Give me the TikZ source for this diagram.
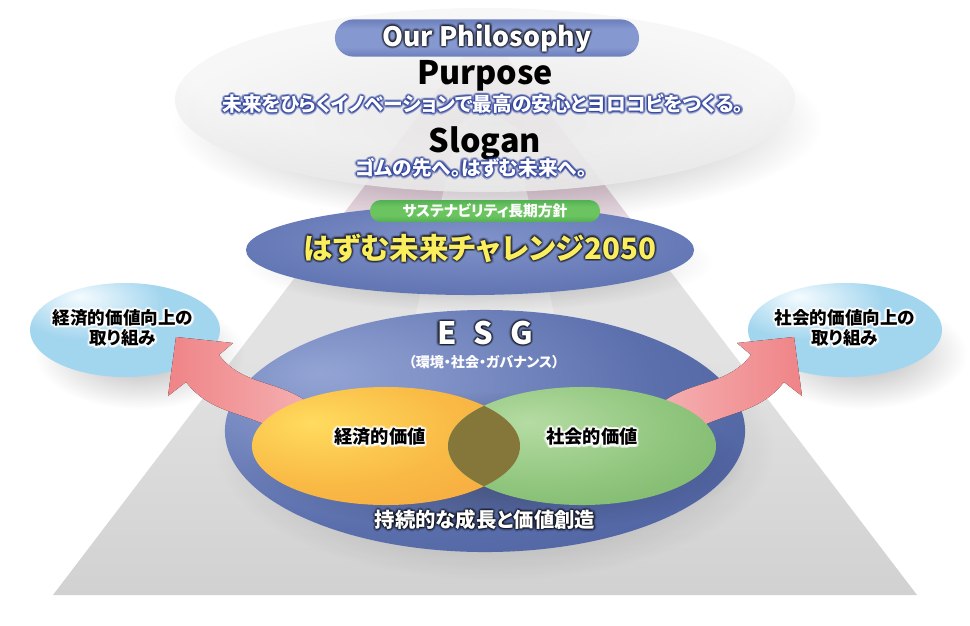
\documentclass[tikz,border=0pt]{standalone}
\usepackage{fontspec}
\setmainfont{Noto Sans CJK JP}[RawFeature=+palt]
\usetikzlibrary{shapes.geometric, fadings}

\definecolor{floorpink}{HTML}{E8C4D9}
\definecolor{floorgrey}{HTML}{E2E2E2}
\definecolor{floordark}{HTML}{BDBDBD}
\definecolor{silverlight}{HTML}{F6F6F6}
\definecolor{silvermid}{HTML}{D9D9D9}
\definecolor{silveredge}{HTML}{B3B3B3}
\definecolor{pilldark}{HTML}{3A4E94}
\definecolor{pilllight}{HTML}{8698D0}
\definecolor{greendark}{HTML}{23903A}
\definecolor{greenlite}{HTML}{6CC461}
\definecolor{challlight}{HTML}{8193C9}
\definecolor{challmid}{HTML}{6074B3}
\definecolor{challdark}{HTML}{485A99}
\definecolor{skylight}{HTML}{F4FBFE}
\definecolor{skymid}{HTML}{A2D5EE}
\definecolor{skyedge}{HTML}{7B9BD0}
\definecolor{esglight}{HTML}{93A4D4}
\definecolor{esgmid}{HTML}{5B6FAD}
\definecolor{esgdark}{HTML}{3B4E8D}
\definecolor{orangelight}{HTML}{FFDB5E}
\definecolor{orangemid}{HTML}{F9BA45}
\definecolor{orangeedge}{HTML}{F29638}
\definecolor{greenlight}{HTML}{B5DCA3}
\definecolor{greenmid}{HTML}{8EC47B}
\definecolor{greenedge}{HTML}{68A65A}
\definecolor{overlapolive}{HTML}{85773A}
\definecolor{arrowpink}{HTML}{EF8487}
\definecolor{arrowlight}{HTML}{F5AEB0}
\definecolor{glowblue}{HTML}{2B3F9C}
\definecolor{challengeyellow}{HTML}{FAEE5E}

\pgfdeclareverticalshading{floorshade}{100bp}{color(0bp)=(floordark); color(46bp)=(floorgrey); color(54bp)=(floorgrey); color(66bp)=(floorpink); color(100bp)=(floorpink)}
\pgfdeclareradialshading{silvershade}{\pgfpoint{0bp}{14bp}}{color(0bp)=(silverlight); color(24bp)=(silverlight); color(48bp)=(silvermid); color(66bp)=(silveredge); color(100bp)=(silveredge)}
\pgfdeclareverticalshading{bluepill}{100bp}{color(0bp)=(pilldark); color(38bp)=(pilllight); color(62bp)=(pilllight); color(100bp)=(pilldark)}
\pgfdeclareverticalshading{greenpill}{100bp}{color(0bp)=(greendark); color(40bp)=(greenlite); color(60bp)=(greenlite); color(100bp)=(greendark)}
\pgfdeclareradialshading{challshade}{\pgfpoint{0bp}{6bp}}{color(0bp)=(challlight); color(30bp)=(challmid); color(58bp)=(challdark); color(100bp)=(challdark)}
\pgfdeclareradialshading{skyshade}{\pgfpoint{-12bp}{18bp}}{color(0bp)=(skylight); color(20bp)=(skymid); color(46bp)=(skymid); color(68bp)=(skyedge); color(100bp)=(skyedge)}
\pgfdeclareradialshading{esgshade}{\pgfpoint{-16bp}{12bp}}{color(0bp)=(esglight); color(28bp)=(esgmid); color(64bp)=(esgdark); color(100bp)=(esgdark)}
\pgfdeclareradialshading{orangeshade}{\pgfpoint{-14bp}{10bp}}{color(0bp)=(orangelight); color(24bp)=(orangemid); color(62bp)=(orangeedge); color(100bp)=(orangeedge)}
\pgfdeclareradialshading{greenshade}{\pgfpoint{-10bp}{10bp}}{color(0bp)=(greenlight); color(26bp)=(greenmid); color(62bp)=(greenedge); color(100bp)=(greenedge)}

\tikzfading[name=softedge, inner color=transparent!0, outer color=transparent!100]
\tikzfading[name=fadedown, top color=transparent!0, bottom color=transparent!85]

% halo copies first, then the named node on top
\newcommand\glownode[5]{%
	\foreach \rad in {0.8pt,1.7pt}
	\foreach \ang in {0,30,...,330}
	\node[#1, shift={(\ang:\rad)}] at #4 {#5};
	\node[#2] (#3) at #4 {#5};}

\begin{document}
\begin{tikzpicture}[x=0.025cm, y=0.025cm,
	blob/.style={ellipse, inner sep=0pt},
	pill/.style={rectangle, inner sep=0pt, rounded corners=#1},
	softshadow/.style={fill=black, fill opacity=#1, path fading=softedge},
	pilltitle/.style={font=\fontsize{19pt}{22pt}\selectfont\bfseries, text=white},
	heading/.style={font=\fontsize{23pt}{26pt}\selectfont\bfseries, text=black},
	motto/.style={font=\fontsize{14pt}{17pt}\selectfont\bfseries, text=white},
	pilltext/.style={font=\fontsize{10.5pt}{12pt}\selectfont\bfseries, text=white},
	challengelabel/.style={font=\fontsize{21pt}{24pt}\selectfont\bfseries, text=challengeyellow},
	goallabel/.style={font=\fontsize{12.5pt}{14.5pt}\selectfont\bfseries, text=black, align=center},
	esglabel/.style={font=\fontsize{22pt}{24pt}\selectfont\bfseries, text=white},
	esgsublabel/.style={font=\fontsize{10pt}{12pt}\selectfont\bfseries, text=white},
	valuelabel/.style={font=\fontsize{13pt}{15pt}\selectfont\bfseries, text=black},
	growthlabel/.style={font=\fontsize{14.5pt}{17pt}\selectfont\bfseries, text=white},
	bluehalo/.style={text=glowblue, text opacity=.25},
	whitehalo/.style={text=white, text opacity=.45},
	darkhalo/.style={text=black, text opacity=.12}]

	\useasboundingbox (0,0) rectangle (970,-625);
	\fill[white] (0,0) rectangle (970,-625);

	% floor and centre path
	\shade[shading=floorshade] (485,-28) -- (917,-595) -- (53,-595) -- cycle;
	\fill[white, path fading=fadedown] (485,-108) -- (521,-131) -- (513,-131) -- (560,-340)
		-- (410,-340) -- (457,-131) -- (449,-131) -- cycle;

	% philosophy
	\fill[softshadow=.45] (497,-124) ellipse [x radius=325, y radius=98];
	\node[blob, minimum width=15.5cm, minimum height=4.6cm, shading=silvershade, fill opacity=.88] (philo) at (485,-100) {};
	\node[pill=0.46cm, minimum width=7.6cm, minimum height=0.93cm, shading=bluepill] (philopill) at (487,-38) {};
	\glownode{pilltitle, darkhalo}{pilltitle}{philotitle}{(487,-38)}{Our Philosophy}
	\node[heading] (purpose) at (485,-76) {Purpose};
	\glownode{motto, bluehalo}{motto}{purposeline}{(483,-104)}{未来をひらくイノベーションで最高の安心とヨロコビをつくる。}
	\node[heading] (slogan) at (485,-143) {Slogan};
	\glownode{motto, bluehalo}{motto}{sloganline}{(471,-168)}{ゴムの先へ。はずむ未来へ。}

	% long-term policy
	\fill[softshadow=.3] (478,-262) ellipse [x radius=235, y radius=50];
	\node[blob, minimum width=11.2cm, minimum height=2.25cm, shading=challshade] (challenge) at (470,-250) {};
	\node[pill=0.27cm, minimum width=5.75cm, minimum height=0.55cm, shading=greenpill] (policypill) at (485,-211) {};
	\node[pilltext] (policy) at (485,-211) {サステナビリティ長期方針};
	\glownode{challengelabel, darkhalo}{challengelabel}{challengetext}{(480,-248)}{はずむ未来チャレンジ2050}

	% side goals
	\fill[softshadow=.3] (140,-354) ellipse [x radius=105, y radius=55];
	\fill[softshadow=.3] (862,-354) ellipse [x radius=105, y radius=55];
	\node[blob, minimum width=4.75cm, minimum height=2.35cm, shading=skyshade] (econgoal) at (125,-330) {};
	\node[blob, minimum width=4.85cm, minimum height=2.35cm, shading=skyshade] (socgoal) at (845,-330) {};
	\glownode{goallabel, whitehalo}{goallabel}{econgoaltext}{(123,-328)}{経済的価値向上の\\取り組み}
	\glownode{goallabel, whitehalo}{goallabel}{socgoaltext}{(845,-328)}{社会的価値向上の\\取り組み}

	% ESG
	\fill[softshadow=.35] (495,-448) ellipse [x radius=280, y radius=132];
	\node[blob, minimum width=13cm, minimum height=6.05cm, shading=esgshade] (esg) at (485,-431) {};

	% arrows out to the goals
	\fill[left color=arrowpink, right color=arrowlight] (306,-401) to[out=146,in=-52] (219,-355)
		-- (233,-343) -- (176,-337) -- (168,-396) -- (186,-382) to[out=-52,in=146] (284,-435) -- cycle;
	\fill[left color=arrowlight, right color=arrowpink] (664,-401) to[out=34,in=232] (751,-355)
		-- (737,-343) -- (794,-337) -- (802,-396) -- (784,-382) to[out=232,in=34] (686,-435) -- cycle;

	% two values
	\fill[softshadow=.4] (496,-462) ellipse [x radius=250, y radius=70];
	\node[blob, minimum width=6.7cm, minimum height=2.95cm, shading=orangeshade] (econ) at (386,-446) {};
	\node[blob, minimum width=6.7cm, minimum height=2.95cm, shading=greenshade] (social) at (582,-446) {};
	\begin{scope}
		\clip (econ.center) ellipse [x radius=134, y radius=59];
		\fill[overlapolive] (social.center) ellipse [x radius=134, y radius=59];
	\end{scope}
	\glownode{valuelabel, whitehalo}{valuelabel}{econtext}{(380,-437)}{経済的価値}
	\glownode{valuelabel, whitehalo}{valuelabel}{socialtext}{(592,-437)}{社会的価値}

	\glownode{esglabel, darkhalo}{esglabel}{esgtitle}{(485,-333)}{E\hspace{.55em}S\hspace{.55em}G}
	\node[esgsublabel] (esgsub) at (484,-362) {（環境・社会・ガバナンス）};
	\glownode{growthlabel, darkhalo}{growthlabel}{growth}{(485,-520)}{持続的な成長と価値創造}
\end{tikzpicture}
\end{document}
